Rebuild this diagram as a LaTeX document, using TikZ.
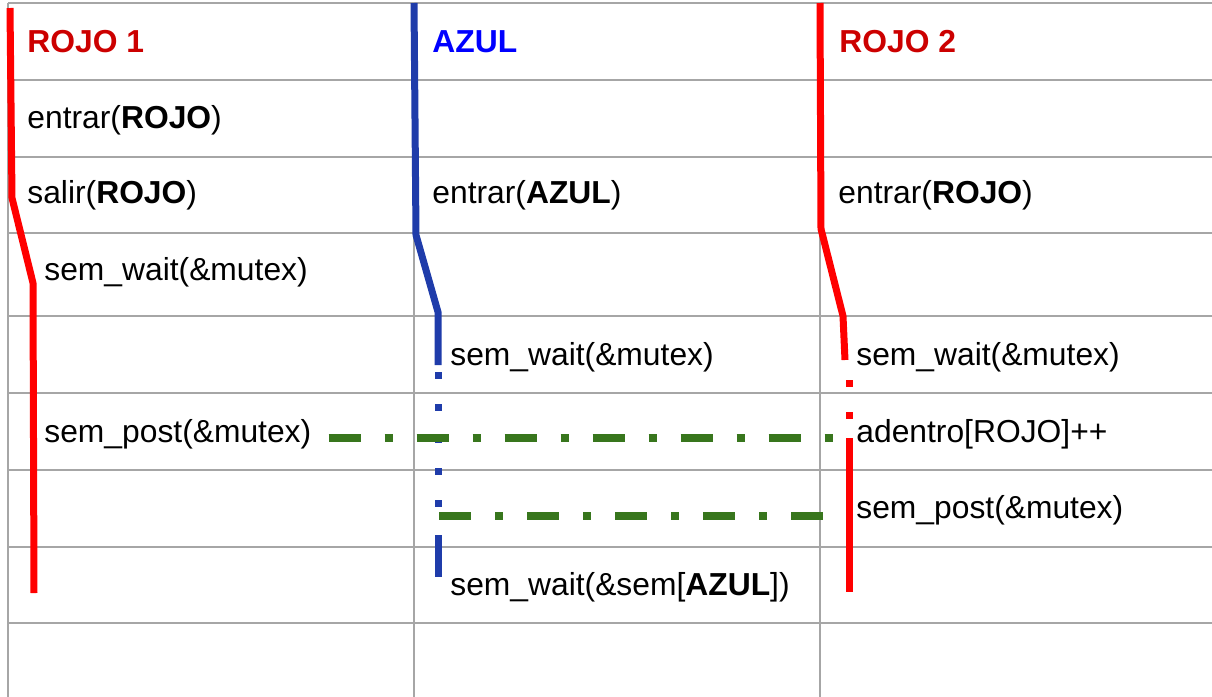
\documentclass[tikz,border=0pt]{standalone}
\usepackage{fontspec}
\setmainfont{Liberation Sans}
\usepackage{tikz}
\usetikzlibrary{positioning}

\definecolor{rejilla}{HTML}{A6A6A6}
\definecolor{hilorojo}{HTML}{FF0000}
\definecolor{hiloazul}{HTML}{1F3CAA}
\definecolor{titrojo}{HTML}{CC0000}
\definecolor{titazul}{HTML}{0000FF}
\definecolor{verde}{HTML}{38761D}

\begin{document}
\begin{tikzpicture}[x=0.5pt,y=-0.5pt
            ,rejilla/.style={draw=rejilla,line width=0.7pt}
            ,txt/.style={anchor=base west,inner sep=0pt,font=\fontsize{15.9}{19}\selectfont}
            ,titulo/.style={txt,font=\fontsize{15.9}{19}\selectfont\bfseries}
            ,hilo/.style={line width=3.5pt,line join=miter}
            ,puntos/.style={line width=3.5pt,dash pattern=on 3.5pt off 12.5pt}
            ,senal/.style={draw=verde,line width=4pt,dash pattern=on 16pt off 12pt on 4pt off 12pt}]
  \useasboundingbox (0,0) rectangle (1212,697);
  % tabla
  \foreach \y in {3,80,157,233,316,393,470,547,623}
    \draw[rejilla] (8,\y) -- (1212,\y);
  \foreach \x in {8,414,820}
    \draw[rejilla] (\x,3) -- (\x,697);

  % hilos
  \draw[hilo,hilorojo] (10,8) -- (12,198) -- (33,283) -- (34,593);
  \draw[hilo,hiloazul] (414,3) -- (416,235) -- (438,312) -- (438,365);
  \draw[puntos,hiloazul] (438,372) -- (438,510);
  \draw[hilo,hiloazul] (438,535) -- (438,577);
  \draw[hilo,hilorojo] (820,3) -- (821,229) -- (843,316) -- (845,360);
  \draw[puntos,hilorojo] (849,380) -- (849,430);
  \draw[hilo,hilorojo] (849,438) -- (849,592);

  % textos
  \node[titulo,titrojo] (r1) at (27,52) {ROJO 1};
  \node[titulo,titazul] (az) at (432,52) {AZUL};
  \node[titulo,titrojo] (r2) at (839,52) {ROJO 2};
  \node[txt] (r1a) at (27,128) {entrar(\textbf{ROJO})};
  \node[txt] (r1b) at (27,203) {salir(\textbf{ROJO})};
  \node[txt] (r1c) at (44,280) {sem\_wait(\&mutex)};
  \node[txt] (r1d) at (44,442) {sem\_post(\&mutex)};
  \node[txt] (aza) at (432,203) {entrar(\textbf{AZUL})};
  \node[txt] (azb) at (450,365) {sem\_wait(\&mutex)};
  \node[txt] (azc) at (450,595) {sem\_wait(\&sem[\textbf{AZUL}])};
  \node[txt] (r2a) at (838,203) {entrar(\textbf{ROJO})};
  \node[txt] (r2b) at (856,365) {sem\_wait(\&mutex)};
  \node[txt] (r2c) at (856,442) {adentro[ROJO]++};
  \node[txt] (r2d) at (856,518) {sem\_post(\&mutex)};

  % senales
  \coordinate (s1) at (835,438);
  \coordinate (s2a) at (439,516);
  \coordinate (s2b) at (823,516);
  \path[senal]
    (r1d.east |- s1) ++(17,0) edge (s1)
    (s2a) edge (s2b)
    ;
\end{tikzpicture}
\end{document}
